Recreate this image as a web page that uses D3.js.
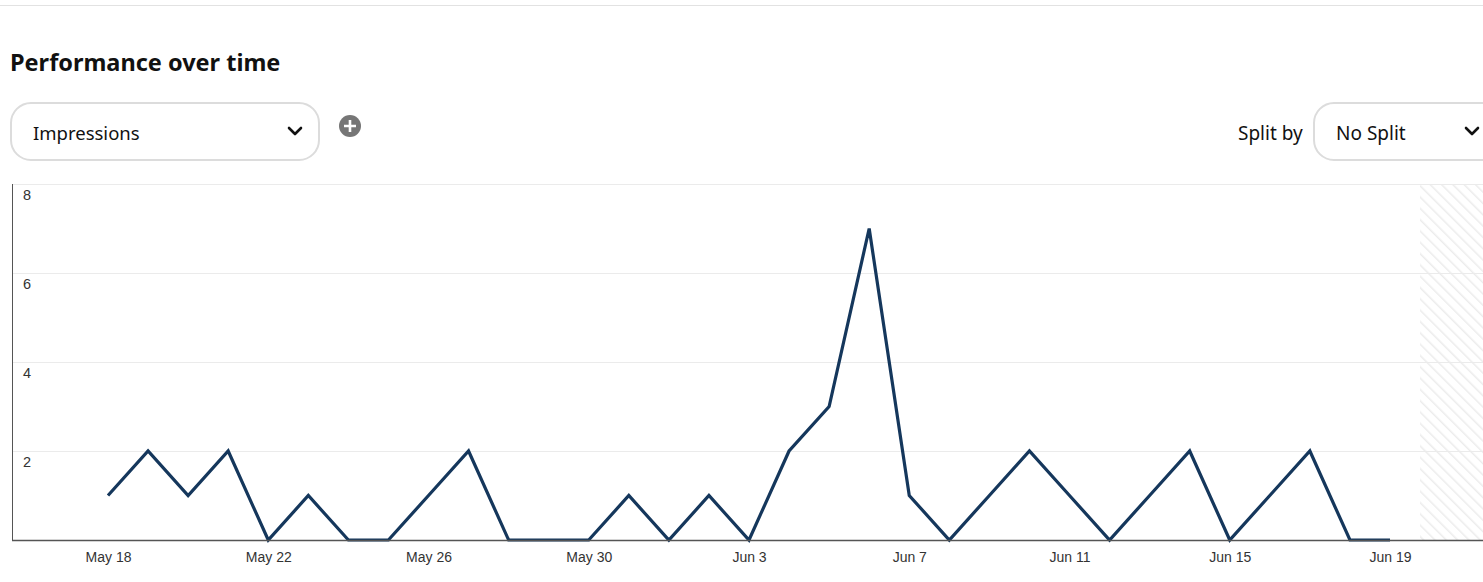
<!DOCTYPE html>
<html>
<head>
<meta charset="utf-8">
<script src="https://cdn.jsdelivr.net/npm/d3@7"></script>
<style>
  html, body { margin: 0; padding: 0; background: #fff; overflow: hidden; }
  svg { display: block; }
</style>
</head>
<body>
<svg id="chart" width="1483" height="582"></svg>
<script>
// ---- data ----
const dates = [
  "2024-05-18","2024-05-19","2024-05-20","2024-05-21","2024-05-22","2024-05-23","2024-05-24",
  "2024-05-25","2024-05-26","2024-05-27","2024-05-28","2024-05-29","2024-05-30","2024-05-31",
  "2024-06-01","2024-06-02","2024-06-03","2024-06-04","2024-06-05","2024-06-06","2024-06-07",
  "2024-06-08","2024-06-09","2024-06-10","2024-06-11","2024-06-12","2024-06-13","2024-06-14",
  "2024-06-15","2024-06-16","2024-06-17","2024-06-18","2024-06-19"
];
const impressions = [1,2,1,2,0,1,0,0,1,2,0,0,0,1,0,1,0,2,3,7,1,0,1,2,1,0,1,2,0,1,2,0,0];
const xTickDates = ["2024-05-18","2024-05-22","2024-05-26","2024-05-30","2024-06-03","2024-06-07","2024-06-11","2024-06-15","2024-06-19"];
const xTickLabels = ["May 18","May 22","May 26","May 30","Jun 3","Jun 7","Jun 11","Jun 15","Jun 19"];
const yTicks = [2,4,6,8];
const yMax = 8;
const futureStart = "2024-06-19T18:00:00";
const titleText = "Performance over time";
const metricLabel = "Impressions";
const splitLabel = "Split by";
const splitValue = "No Split";

// ---- layout ----
const W = 1483, H = 582;
const plotLeft = 12, plotRight = 1483, plotTop = 184, plotBottom = 540;
const parse = d3.isoParse;
const svg = d3.select("#chart");

const x = d3.scaleTime()
  .domain([parse(dates[0]), parse(dates[dates.length-1])])
  .range([108, 1390]);
const y = d3.scaleLinear().domain([0, yMax]).range([plotBottom, plotTop]);

const uiFont = "'Noto Sans', 'Open Sans', sans-serif";
const axisFont = "'Liberation Sans', Arial, sans-serif";

// top separator
svg.append("line").attr("x1",0).attr("x2",W).attr("y1",5.5).attr("y2",5.5)
  .attr("stroke","#e2e2e2").attr("stroke-width",1);

// title
svg.append("text").attr("x",10).attr("y",71)
  .attr("font-family",uiFont).attr("font-weight",700).attr("font-size",23.5)
  .attr("fill","#111").text(titleText);

// metric dropdown
const dd = svg.append("g");
dd.append("rect").attr("x",11).attr("y",103).attr("width",308).attr("height",57)
  .attr("rx",20).attr("fill","#fff").attr("stroke","#dcdcdc").attr("stroke-width",2);
dd.append("text").attr("x",33).attr("y",140).attr("font-family",uiFont).attr("font-size",18.5)
  .attr("fill","#111").text(metricLabel);
dd.append("path").attr("d","M289,128 L295,134 L301,128").attr("fill","none")
  .attr("stroke","#111").attr("stroke-width",2.6).attr("stroke-linecap","round").attr("stroke-linejoin","round");

// plus button
const pb = svg.append("g").attr("transform","translate(350,126)");
pb.append("circle").attr("r",11).attr("fill","#767676");
pb.append("path").attr("d","M-6,0 H6 M0,-6 V6").attr("stroke","#fff").attr("stroke-width",2.6);

// split by
svg.append("text").attr("x",1238).attr("y",140).attr("font-family",uiFont).attr("font-size",19)
  .attr("fill","#111").text(splitLabel);
const dd2 = svg.append("g");
dd2.append("rect").attr("x",1314).attr("y",103).attr("width",220).attr("height",57)
  .attr("rx",20).attr("fill","#fff").attr("stroke","#dcdcdc").attr("stroke-width",2);
dd2.append("text").attr("x",1336).attr("y",140).attr("font-family",uiFont).attr("font-size",19)
  .attr("fill","#111").text(splitValue);
dd2.append("path").attr("d","M1466,128 L1472,134 L1478,128").attr("fill","none")
  .attr("stroke","#111").attr("stroke-width",2.6).attr("stroke-linecap","round").attr("stroke-linejoin","round");

// hatch pattern for future region
const defs = svg.append("defs");
const pat = defs.append("pattern").attr("id","hatch").attr("patternUnits","userSpaceOnUse")
  .attr("width",8).attr("height",8).attr("patternTransform","rotate(-45)");
pat.append("rect").attr("width",8).attr("height",8).attr("fill","#fff");
pat.append("line").attr("x1",0).attr("y1",0).attr("x2",0).attr("y2",8)
  .attr("stroke","#ececec").attr("stroke-width",3);

const fx = x(parse(futureStart));
svg.append("rect").attr("x",fx).attr("y",plotTop).attr("width",plotRight - fx)
  .attr("height",plotBottom - plotTop).attr("fill","url(#hatch)");

// grid lines
const grid = svg.append("g");
grid.selectAll("line").data(yTicks).join("line")
  .attr("x1",plotLeft).attr("x2",plotRight)
  .attr("y1",d => Math.round(y(d))+0.5).attr("y2",d => Math.round(y(d))+0.5)
  .attr("stroke","#ebebeb");

// y axis (labels inside plot, below grid lines)
const yAxis = d3.axisRight(y).tickValues(yTicks).tickSize(0).tickPadding(0);
const yg = svg.append("g").attr("transform",`translate(${plotLeft + 11},0)`).call(yAxis);
yg.select(".domain").remove();
yg.selectAll("text").attr("font-family",axisFont).attr("font-size",14.5).attr("fill","#333")
  .attr("dy","15px");
svg.append("line").attr("x1",plotLeft+0.5).attr("x2",plotLeft+0.5).attr("y1",plotTop).attr("y2",plotBottom)
  .attr("stroke","#555").attr("stroke-width",1);

// line
const line = d3.line()
  .x((d,i) => x(parse(dates[i])))
  .y(d => y(d));
svg.append("path").datum(impressions).attr("d",line)
  .attr("fill","none").attr("stroke","#15375c").attr("stroke-width",3.2)
  .attr("stroke-linejoin","miter");

// x axis
const xAxis = d3.axisBottom(x)
  .tickValues(xTickDates.map(parse))
  .tickFormat((d,i) => xTickLabels[i])
  .tickSize(0).tickPadding(12);
const xg = svg.append("g").attr("transform",`translate(0,${plotBottom})`).call(xAxis);
xg.select(".domain").remove();
xg.selectAll("text").attr("font-family",axisFont).attr("font-size",14).attr("fill","#333");
svg.append("line").attr("x1",plotLeft).attr("x2",plotRight).attr("y1",plotBottom+0.5).attr("y2",plotBottom+0.5)
  .attr("stroke","#555").attr("stroke-width",1.5);
</script>
</body>
</html>
